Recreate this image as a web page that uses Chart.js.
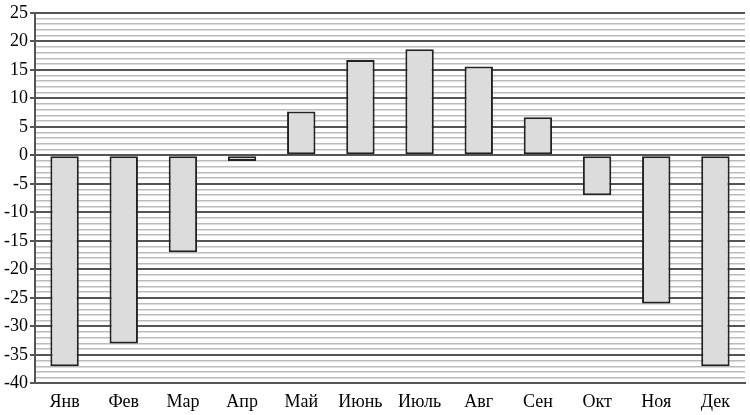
<!DOCTYPE html>
<html><head><meta charset="utf-8">
<script src="https://cdn.jsdelivr.net/npm/chart.js@4/dist/chart.umd.min.js"></script>
<style>body{margin:0;background:#fff}#c{display:block}</style>
</head><body>
<canvas id="c" width="750" height="415"></canvas>
<script>
const months = ["Янв","Фев","Мар","Апр","Май","Июнь","Июль","Авг","Сен","Окт","Ноя","Дек"];
const temps = [-37, -33, -17, -1, 7.7, 16.7, 18.6, 15.6, 6.7, -7, -26, -37];
const yMin = -40, yMax = 25;

const isMajor = v => v % 5 === 0;

new Chart(document.getElementById("c"), {
    type: "bar",
    data: {
        labels: months,
        datasets: [{
            data: temps,
            backgroundColor: "#dcdcdc",
            borderColor: "#222",
            borderWidth: 2,
            borderSkipped: false,
            barPercentage: 0.48,
            categoryPercentage: 1
        }]
    },
    options: {
        responsive: false,
        animation: false,
        layout: { padding: { top: 5, right: 5, bottom: 2, left: 2 } },
        plugins: { legend: { display: false }, tooltip: { enabled: false } },
        scales: {
            x: {
                grid: { display: false },
                border: { color: "#555", width: 2 },
                ticks: { color: "#000", font: { family: "Liberation Serif", size: 18 }, padding: 0 }
            },
            y: {
                min: yMin, max: yMax,
                border: { color: "#555", width: 2 },
                grid: {
                    color: ctx => isMajor(ctx.tick.value) ? "#555" : "#bbb",
                    lineWidth: ctx => isMajor(ctx.tick.value) ? 2 : 1.5,
                    tickColor: ctx => isMajor(ctx.tick.value) ? "#555" : "rgba(0,0,0,0)",
                    tickLength: 5
                },
                ticks: {
                    stepSize: 1,
                    autoSkip: false,
                    color: "#000",
                    font: { family: "Liberation Serif", size: 18 },
                    padding: 2,
                    callback: v => isMajor(v) ? v : ""
                }
            }
        }
    }
});
</script>
</body></html>
